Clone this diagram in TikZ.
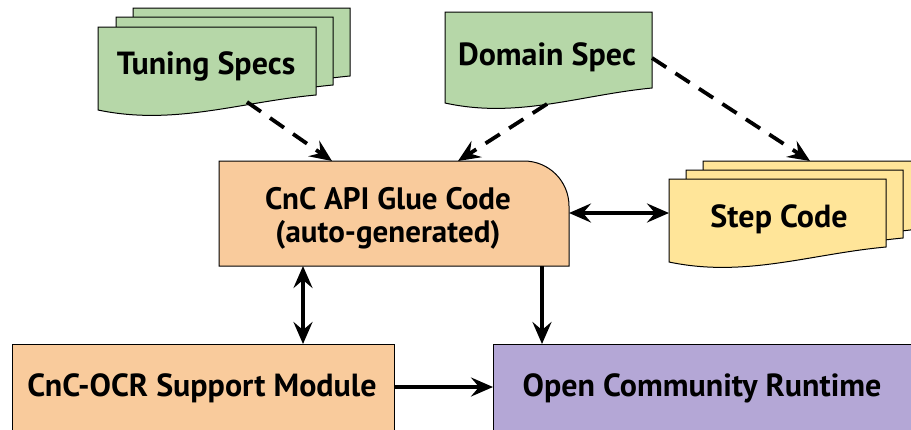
\documentclass[tikz,border=0pt]{standalone}
\usepackage{fontspec}
\setmainfont{PT Sans}
\usetikzlibrary{arrows.meta,calc}
\definecolor{specgreen}{HTML}{B6D7A8}
\definecolor{gluebg}{HTML}{F9CB9C}
\definecolor{stepbg}{HTML}{FFE599}
\definecolor{ocrbg}{HTML}{B4A7D6}
\newcommand\DocShape[5]{%
  \filldraw[shapeline,fill=#1] (#2,#3) -- (#4,#3) -- (#4,{#3+#5-15})
    .. controls ({#2+0.65*(#4-#2)},{#3+#5-8}) and ({#2+0.35*(#4-#2)},{#3+#5+16}) .. (#2,{#3+#5}) -- cycle;}
\tikzset{
  shapeline/.style={draw=black,line width=1pt},
  lbl/.style={font=\fontsize{32}{33}\selectfont\bfseries,align=center,inner sep=0pt,anchor=base},
  conn/.style={line width=3.8pt,-{Stealth[length=22pt,width=19pt,inset=8pt]}},
  bconn/.style={line width=3.8pt,{Stealth[length=22pt,width=19pt,inset=8pt]}-{Stealth[length=22pt,width=19pt,inset=8pt]}},
  dconn/.style={conn,dash pattern=on 17pt off 11pt},
}
\begin{document}
\begin{tikzpicture}[x=1pt,y=-1pt]
\clip (0,0) rectangle (911,429);
% Tuning specs stack
\DocShape{specgreen}{133}{8}{350}{83}
\DocShape{specgreen}{116}{17}{333}{83}
\DocShape{specgreen}{98}{27}{316}{83}
\node[lbl] (tuning) at (206,74) {Tuning Specs};
% Domain spec
\DocShape{specgreen}{445}{12}{652}{91}
\node[lbl] (domain) at (547,65) {Domain Spec};
% Step code stack
\DocShape{stepbg}{703}{161}{920}{83}
\DocShape{stepbg}{686}{170}{903}{83}
\DocShape{stepbg}{669}{179}{886}{83}
\node[lbl] (step) at (779,227) {Step Code};
% Glue code
\filldraw[shapeline,fill=gluebg] (219,266) -- (219,161) [rounded corners=45pt] -- (569,161) [sharp corners] -- (569,266) -- cycle;
\node[lbl,anchor=center,font=\fontsize{31}{33}\selectfont\bfseries] (glue) at (388,218) {CnC API Glue Code\\(auto-generated)};
% Bottom boxes
\filldraw[shapeline,fill=gluebg] (12,344) rectangle (394,440);
\node[lbl] (support) at (202,396) {CnC-OCR Support Module};
\filldraw[shapeline,fill=ocrbg] (493,344) rectangle (930,440);
\node[lbl] (ocr) at (702,396) {Open Community Runtime};
% connector end points on shape borders
\coordinate (tuningout) at (247,102);
\coordinate (gluein1) at (332,161);
\coordinate (domainout1) at (547,104);
\coordinate (gluein2) at (458,161);
\coordinate (domainout2) at (652,58);
\coordinate (stepin) at (810,161);
\coordinate (glueright) at (569,213);
\coordinate (stepleft) at (669,213);
\coordinate (gluebot1) at (303,266);
\coordinate (supporttop) at (303,344);
\coordinate (gluebot2) at (542,266);
\coordinate (ocrtop) at (542,344);
\coordinate (supportright) at (394,387);
\coordinate (ocrleft) at (493,387);
% connectors
\draw[dconn] (tuningout) -- (gluein1);
\draw[dconn] (domainout1) -- (gluein2);
\draw[dconn] (domainout2) -- (stepin);
\draw[bconn] (glueright) -- (stepleft);
\draw[bconn] (gluebot1) -- (supporttop);
\draw[conn] (gluebot2) -- (ocrtop);
\draw[conn] (supportright) -- (ocrleft);
\end{tikzpicture}
\end{document}
